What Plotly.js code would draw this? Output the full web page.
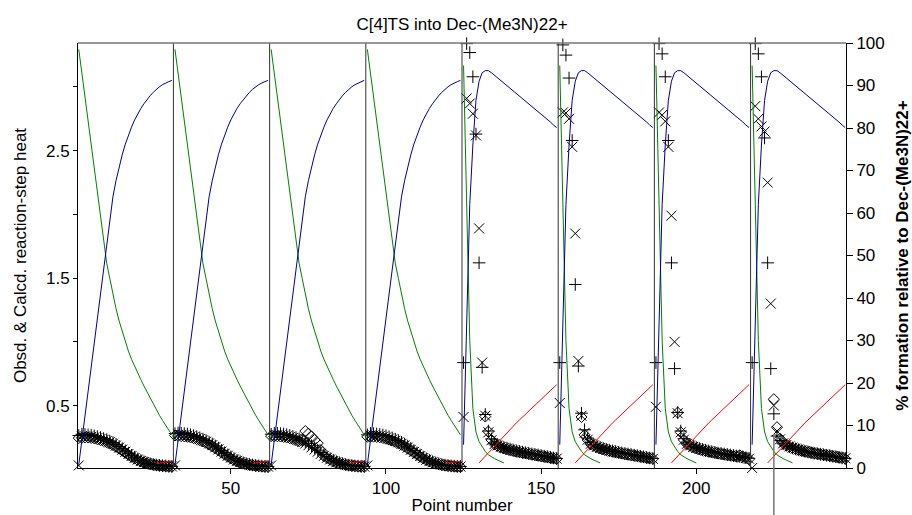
<!DOCTYPE html>
<html>
<head>
<meta charset="utf-8">
<script src="https://cdn.plot.ly/plotly-3.0.1.min.js"></script>
<style>html,body{margin:0;padding:0;background:#fff;}#chart{width:912px;height:515px;}</style>
</head>
<body>
<div id="chart"></div>
<script>
// ---- data ----
const segmentStarts = [1, 32, 63, 94, 125, 156, 187, 218];
const segmentLength = 31;
const separatorPositions = [31.5, 62.5, 93.5, 124.5, 155.5, 186.5, 217.5];
const cursorPosition = 225;
const xTickVals = [50, 100, 150, 200];
const leftTickVals = [0.5, 1, 1.5, 2, 2.5, 3];
const leftTickText = ['0.5', '', '1.5', '', '2.5', ''];

// species curves (% formation), runs 1-4 (A) and runs 5-8 (B)
const greenA = [98.5, 92.8, 87.0, 81.3, 75.5, 69.8, 64.1, 58.3, 52.6, 48.2, 44.6, 40.6, 37.5, 34.6, 32.1, 29.7, 27.5, 25.6, 23.9, 22.3, 20.8, 19.3, 17.9, 16.5, 15.0, 13.7, 12.4, 11.2, 10.0, 8.9, 7.8];
const blueA = [0.8, 6.6, 12.4, 18.3, 24.1, 29.9, 35.7, 41.6, 47.4, 53.2, 58.6, 63.8, 67.6, 71.0, 73.7, 76.2, 78.3, 80.2, 81.9, 83.4, 84.6, 85.7, 86.7, 87.6, 88.4, 89.1, 89.7, 90.2, 90.6, 90.9, 91.2];
const redA = [null, null, null, null, null, null, null, null, null, null, null, null, null, null, null, null, null, null, null, null, null, null, null, null, null, 1.05, 1.2, 1.3, 1.4, 1.5, 1.6];
const greenB = [94.7, 62, 30, 14, 8.5, 6.2, 4.9, 3.9, 3.1, 2.6, 2.2, 1.85, 1.55, 1.2, null, null, null, null, null, null, null, null, null, null, null, null, null, null, null, null, null];
const blueB = [5.5, 37, 62, 76, 86.5, 91.0, 93.0, 93.5, 93.5, 93.0, 92.4, 91.8, 91.2, 90.6, 90.0, 89.4, 88.8, 88.2, 87.6, 87.0, 86.4, 85.7, 85.1, 84.5, 83.9, 83.3, 82.6, 82.0, 81.4, 80.7, 80.1];
const redB = [null, null, null, null, null, 1.2, 2.0, 2.8, 3.6, 4.4, 5.2, 6.0, 6.8, 7.6, 8.3, 9.1, 9.8, 10.6, 11.3, 12.0, 12.8, 13.5, 14.2, 14.9, 15.6, 16.3, 17.0, 17.6, 18.3, 19.0, 19.6];

// reaction-step heats per run: + series, x series, diamond series
const plus1 = [0.265, 0.275, 0.273, 0.27, 0.267, 0.262, 0.256, 0.249, 0.241, 0.232, 0.221, 0.209, 0.195, 0.179, 0.162, 0.144, 0.127, 0.11, 0.095, 0.081, 0.069, 0.059, 0.05, 0.044, 0.038, 0.034, 0.031, 0.028, 0.026, 0.024, 0.023];
const cross1 = [0.03, 0.26, 0.259, 0.257, 0.254, 0.25, 0.245, 0.238, 0.231, 0.222, 0.212, 0.2, 0.186, 0.17, 0.154, 0.137, 0.12, 0.104, 0.089, 0.076, 0.065, 0.056, 0.048, 0.042, 0.037, 0.033, 0.03, 0.027, 0.025, 0.023, 0.022];
const diam1 = [0.245, 0.247, 0.25, 0.249, 0.246, 0.242, 0.236, 0.229, 0.221, 0.212, 0.202, 0.19, 0.176, 0.161, 0.145, 0.129, 0.113, 0.098, 0.084, 0.072, 0.062, 0.053, 0.046, 0.04, 0.035, 0.031, 0.028, 0.025, 0.023, 0.021, 0.02];
const plus2 = [0.28, 0.285, 0.283, 0.28, 0.276, 0.271, 0.264, 0.256, 0.247, 0.237, 0.226, 0.213, 0.199, 0.183, 0.166, 0.148, 0.13, 0.113, 0.097, 0.083, 0.071, 0.06, 0.051, 0.044, 0.038, 0.034, 0.03, 0.027, 0.025, 0.023, 0.022];
const cross2 = [0.03, 0.27, 0.269, 0.267, 0.263, 0.258, 0.252, 0.245, 0.237, 0.227, 0.216, 0.203, 0.189, 0.173, 0.156, 0.139, 0.122, 0.106, 0.091, 0.077, 0.066, 0.056, 0.048, 0.041, 0.036, 0.032, 0.029, 0.026, 0.024, 0.022, 0.021];
const diam2 = [0.265, 0.262, 0.26, 0.258, 0.255, 0.25, 0.244, 0.237, 0.228, 0.218, 0.207, 0.194, 0.18, 0.164, 0.148, 0.131, 0.115, 0.099, 0.085, 0.072, 0.062, 0.053, 0.045, 0.039, 0.034, 0.03, 0.027, 0.024, 0.022, 0.02, 0.019];
const plus3 = [0.275, 0.283, 0.282, 0.28, 0.277, 0.272, 0.266, 0.258, 0.249, 0.239, 0.228, 0.215, 0.201, 0.185, 0.168, 0.15, 0.132, 0.115, 0.099, 0.084, 0.071, 0.06, 0.051, 0.044, 0.038, 0.033, 0.03, 0.027, 0.025, 0.023, 0.022];
const cross3 = [0.03, 0.268, 0.268, 0.266, 0.263, 0.258, 0.252, 0.245, 0.236, 0.226, 0.215, 0.202, 0.188, 0.172, 0.155, 0.138, 0.121, 0.105, 0.09, 0.077, 0.065, 0.055, 0.047, 0.041, 0.036, 0.032, 0.028, 0.026, 0.024, 0.022, 0.021];
const diam3 = [0.26, 0.258, 0.259, 0.257, 0.254, 0.25, 0.244, 0.237, 0.229, 0.22, 0.23, 0.3, 0.28, 0.257, 0.23, 0.205, 0.15, 0.103, 0.088, 0.075, 0.063, 0.054, 0.046, 0.04, 0.035, 0.031, 0.028, 0.025, 0.023, 0.021, 0.02];
const plus4 = [0.27, 0.282, 0.28, 0.277, 0.274, 0.269, 0.263, 0.255, 0.246, 0.236, 0.225, 0.212, 0.198, 0.182, 0.165, 0.147, 0.129, 0.112, 0.096, 0.082, 0.07, 0.059, 0.05, 0.043, 0.037, 0.033, 0.03, 0.027, 0.025, 0.023, 0.022];
const cross4 = [0.03, 0.266, 0.265, 0.263, 0.26, 0.255, 0.249, 0.242, 0.233, 0.223, 0.212, 0.2, 0.186, 0.17, 0.153, 0.136, 0.119, 0.103, 0.088, 0.075, 0.064, 0.055, 0.047, 0.041, 0.036, 0.032, 0.029, 0.026, 0.024, 0.022, 0.021];
const diam4 = [0.255, 0.255, 0.256, 0.254, 0.251, 0.246, 0.24, 0.233, 0.225, 0.215, 0.204, 0.192, 0.178, 0.162, 0.146, 0.13, 0.114, 0.099, 0.085, 0.072, 0.062, 0.053, 0.045, 0.039, 0.034, 0.03, 0.027, 0.024, 0.022, 0.02, 0.019];
const plus5 = [0.837, 3.34, 3.27, 3.08, 2.63, 1.62, 0.80, 0.43, 0.30, 0.238, 0.205, 0.192, 0.181, 0.172, 0.165, 0.158, 0.151, 0.145, 0.14, 0.135, 0.13, 0.126, 0.121, 0.117, 0.113, 0.108, 0.103, 0.099, 0.094, 0.089, 0.085];
const cross5 = [0.41, 2.91, 2.87, 2.79, 2.62, 1.89, 0.837, 0.42, 0.29, 0.228, 0.198, 0.186, 0.176, 0.168, 0.161, 0.154, 0.148, 0.142, 0.137, 0.132, 0.127, 0.123, 0.118, 0.114, 0.11, 0.105, 0.101, 0.096, 0.092, 0.087, 0.083];
const diam5 = [null, null, null, null, null, null, null, 0.414, 0.296, 0.23, 0.195, 0.182, 0.172, 0.164, 0.157, 0.15, 0.144, 0.138, 0.133, 0.128, 0.124, 0.119, 0.115, 0.111, 0.107, 0.102, 0.098, 0.094, 0.089, 0.085, 0.081];
const plus6 = [0.837, 3.33, 3.25, 3.07, 2.58, 1.45, 0.81, 0.44, 0.31, 0.245, 0.21, 0.194, 0.182, 0.172, 0.164, 0.157, 0.15, 0.144, 0.139, 0.134, 0.129, 0.124, 0.12, 0.116, 0.111, 0.107, 0.102, 0.098, 0.093, 0.089, 0.085];
const cross6 = [0.52, 2.80, 2.795, 2.75, 2.53, 1.85, 0.85, 0.42, 0.285, 0.232, 0.2, 0.187, 0.176, 0.167, 0.159, 0.152, 0.146, 0.14, 0.135, 0.13, 0.125, 0.121, 0.117, 0.113, 0.108, 0.104, 0.1, 0.095, 0.091, 0.087, 0.082];
const diam6 = [null, null, null, null, null, null, null, 0.41, 0.27, 0.23, 0.196, 0.183, 0.173, 0.164, 0.156, 0.15, 0.144, 0.138, 0.133, 0.128, 0.124, 0.119, 0.115, 0.111, 0.107, 0.103, 0.099, 0.094, 0.09, 0.086, 0.082];
const plus7 = [0.837, 3.34, 3.26, 3.08, 2.58, 1.62, 0.79, 0.445, 0.30, 0.24, 0.207, 0.193, 0.181, 0.171, 0.163, 0.156, 0.15, 0.144, 0.138, 0.133, 0.128, 0.124, 0.12, 0.116, 0.112, 0.108, 0.104, 0.1, 0.096, 0.091, 0.086];
const cross7 = [0.49, 2.80, 2.78, 2.73, 2.53, 1.99, 1.0, 0.44, 0.29, 0.232, 0.2, 0.187, 0.176, 0.167, 0.159, 0.152, 0.146, 0.14, 0.135, 0.13, 0.125, 0.121, 0.117, 0.113, 0.109, 0.105, 0.101, 0.097, 0.093, 0.088, 0.083];
const diam7 = [null, null, null, null, null, null, null, 0.445, 0.29, 0.23, 0.197, 0.184, 0.173, 0.164, 0.156, 0.15, 0.144, 0.138, 0.133, 0.128, 0.124, 0.12, 0.116, 0.112, 0.108, 0.104, 0.1, 0.11, 0.1, 0.09, 0.08];
const plus8 = [0.837, 3.34, 3.26, 3.08, 2.60, 1.62, 0.79, 0.435, 0.26, 0.225, 0.2, 0.188, 0.177, 0.168, 0.16, 0.153, 0.147, 0.141, 0.136, 0.131, 0.126, 0.122, 0.118, 0.114, 0.11, 0.106, 0.102, 0.098, 0.094, 0.089, 0.085];
const cross8 = [0.01, 2.85, 2.75, 2.69, 2.65, 2.25, 1.30, 0.50, 0.30, 0.235, 0.203, 0.19, 0.179, 0.17, 0.162, 0.155, 0.148, 0.142, 0.137, 0.132, 0.127, 0.123, 0.119, 0.115, 0.111, 0.107, 0.103, 0.099, 0.095, 0.09, 0.086];
const diam8 = [null, null, null, null, null, null, null, 0.55, 0.33, 0.24, 0.205, 0.19, 0.178, 0.168, 0.16, 0.153, 0.146, 0.14, 0.135, 0.13, 0.125, 0.121, 0.117, 0.113, 0.109, 0.105, 0.101, 0.097, 0.093, 0.088, 0.083];

const plusRuns = [plus1, plus2, plus3, plus4, plus5, plus6, plus7, plus8];
const crossRuns = [cross1, cross2, cross3, cross4, cross5, cross6, cross7, cross8];
const diamRuns = [diam1, diam2, diam3, diam4, diam5, diam6, diam7, diam8];

// ---- build traces ----
const FONT = 'Liberation Sans, Arial, sans-serif';
const traces = [];
const allX = [], allPlus = [], allCross = [], allDiam = [];
segmentStarts.forEach((s, i) => {
  const xs = [];
  for (let j = 0; j < segmentLength; j++) xs.push(s + j);
  allX.push(...xs);
  allPlus.push(...plusRuns[i]);
  allCross.push(...crossRuns[i]);
  allDiam.push(...diamRuns[i]);
});

const mk = (y, symbol, size) => ({
  type: 'scatter', mode: 'markers', x: allX, y: y, yaxis: 'y', cliponaxis: false,
  marker: {symbol: symbol, size: size, color: '#000', line: {color: '#000', width: 1}},
  hoverinfo: 'x+y', showlegend: false
});
traces.push(mk(allDiam, 'diamond-open', 8.5));
traces.push(mk(allCross, 'x-thin-open', 10));
traces.push(mk(allPlus, 'cross-thin-open', 9));

segmentStarts.forEach((s, i) => {
  const xs = [];
  for (let j = 0; j < segmentLength; j++) xs.push(s + j);
  const A = i < 4;
  const curves = [
    [A ? greenA : greenB, '#008000'],
    [A ? blueA : blueB, '#000090'],
    [A ? redA : redB, '#ff0000']
  ];
  curves.forEach(([ys, col]) => {
    traces.push({type: 'scatter', mode: 'lines', x: xs, y: ys, yaxis: 'y2',
      line: {color: col, width: 1}, connectgaps: false, showlegend: false, hoverinfo: 'x+y'});
  });
});

const shapes = separatorPositions.map(p => ({
  type: 'line', xref: 'x', yref: 'paper', x0: p, x1: p, y0: 0, y1: 1,
  line: {color: '#333', width: 1}, layer: 'above'
}));
shapes.push({type: 'line', xref: 'paper', yref: 'paper', x0: 0, x1: 1, y0: 1, y1: 1,
  line: {color: '#777', width: 1.5}, layer: 'above'});
shapes.push({type: 'line', xref: 'x', yref: 'paper', x0: cursorPosition, x1: cursorPosition, y0: -0.115, y1: 0.08,
  line: {color: '#777', width: 1.5}, layer: 'above'});

const layout = {
  width: 912, height: 515,
  margin: {l: 78, r: 66, t: 43, b: 47, pad: 0},
  paper_bgcolor: '#fff', plot_bgcolor: '#fff',
  font: {family: FONT, size: 17, color: '#000'},
  showlegend: false,
  title: {text: 'C[4]TS into Dec-(Me3N)22+', font: {family: FONT, size: 17, color: '#000'},
    x: 0.5, xref: 'paper', y: 0.953, yref: 'container', yanchor: 'middle'},
  xaxis: {
    range: [0.75, 248.25], tickmode: 'array', tickvals: xTickVals,
    ticks: 'outside', ticklen: 5, tickwidth: 1, tickcolor: '#000',
    showline: true, linecolor: '#000', linewidth: 1, showgrid: false, zeroline: false,
    tickfont: {family: FONT, size: 17, color: '#000'},
    title: {text: 'Point number', font: {family: FONT, size: 17, color: '#000'}, standoff: 6},
    automargin: false
  },
  yaxis: {
    range: [0.01, 3.345], tickmode: 'array', tickvals: leftTickVals, ticktext: leftTickText,
    ticks: 'outside', ticklen: 4, tickwidth: 1, tickcolor: '#000',
    showline: true, linecolor: '#000', linewidth: 1, showgrid: false, zeroline: false,
    tickfont: {family: FONT, size: 17, color: '#000'},
    title: {text: 'Obsd. & Calcd. reaction-step heat', font: {family: FONT, size: 17, color: '#000'}, standoff: 15},
    automargin: false
  },
  yaxis2: {
    overlaying: 'y', side: 'right', range: [0, 100], dtick: 10, tick0: 0,
    ticks: 'outside', ticklen: 6, tickwidth: 1, tickcolor: '#000',
    showline: true, linecolor: '#000', linewidth: 1, showgrid: false, zeroline: false,
    tickfont: {family: FONT, size: 17, color: '#000'},
    title: {text: '<b>% formation relative to Dec-(Me3N)22+</b>', font: {family: FONT, size: 17, color: '#000'}, standoff: 12},
    automargin: false
  },
  shapes: shapes
};

Plotly.newPlot('chart', traces, layout, {displayModeBar: false, staticPlot: true});
</script>
</body>
</html>
